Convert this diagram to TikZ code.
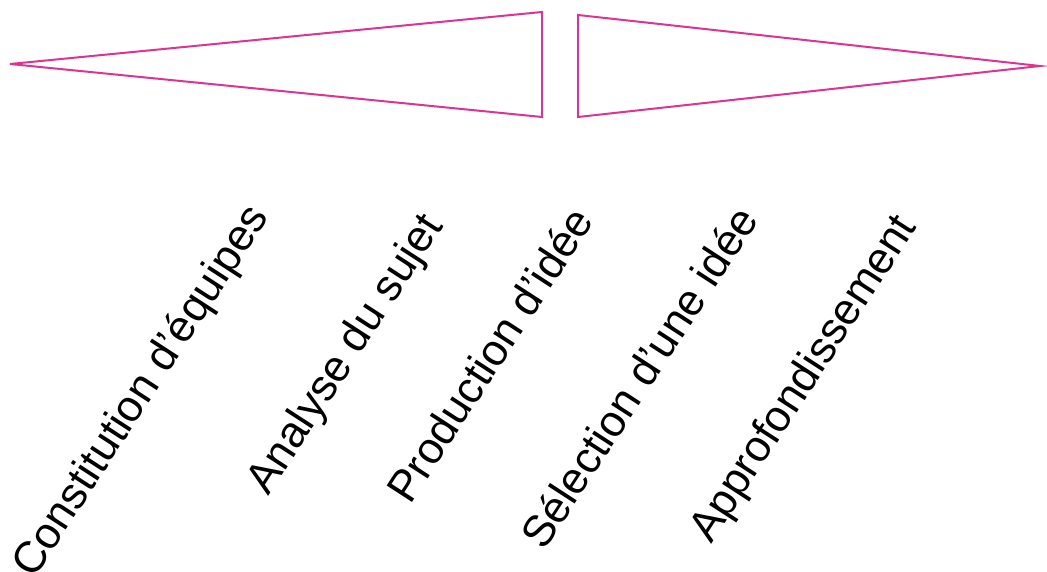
\documentclass[tikz,border=0pt]{standalone}
\usepackage{fontspec}
\setmainfont{Liberation Sans}
\usepackage{xcolor}
\definecolor{pmag}{RGB}{221,52,145}
\usepackage{tikz}
\usetikzlibrary{positioning}

\begin{document}
\begin{tikzpicture}[
  x=1pt,y=-1pt,
  wedge/.style={draw=pmag,line width=2pt,line join=miter},
  phase/.style={rotate=57,anchor=base west,inner sep=0pt,font=\fontsize{44}{50}\selectfont}
]
  \useasboundingbox (0,0) rectangle (1047,572);

  % Wedges
  \draw[wedge] (10,64) -- (542,12) -- (542,117) -- cycle;
  \draw[wedge] (578,15) -- (578,117) -- (1040,66) -- cycle;

  % Phases
  \node[phase] (constit) at (34,580) {Constitution d’équipes};
  \node[phase] (analyse) at (268,497) {Analyse du sujet};
  \node[phase] (prod) at (410,506) {Production d’idée};
  \node[phase] (select) at (544,552) {Sélection d’une idée};
  \node[phase] (approf) at (711,545) {Approfondissement};
\end{tikzpicture}
\end{document}
